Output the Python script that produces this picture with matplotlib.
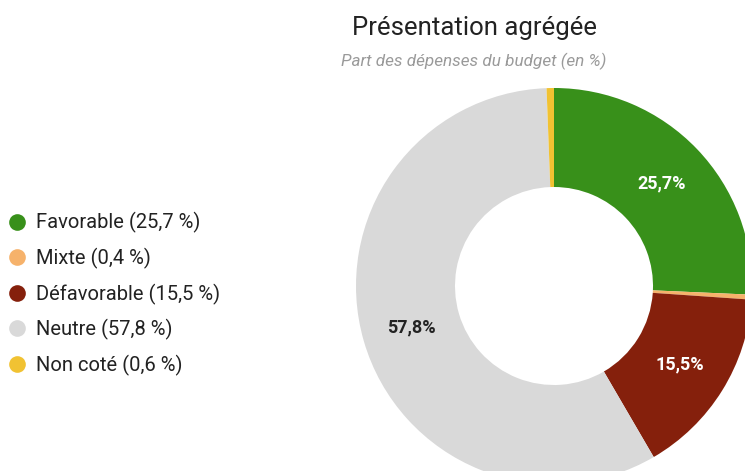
import matplotlib
matplotlib.use("Agg")
import matplotlib.pyplot as plt
from matplotlib.lines import Line2D

plt.rcParams["font.family"] = ["Roboto", "DejaVu Sans"]

# Data
categories = ["Favorable", "Mixte", "Défavorable", "Neutre", "Non coté"]
shares = [25.7, 0.4, 15.5, 57.8, 0.6]
colors = ["#38901a", "#f6b26b", "#85200c", "#d9d9d9", "#f1c232"]
label_colors = ["white", "white", "white", "#222222", "white"]

title = "Présentation agrégée"
subtitle = "Part des dépenses du budget (en %)"


def fmt(v):
    return f"{v:.1f}".replace(".", ",")


W, H = 745, 471
fig = plt.figure(figsize=(W / 100, H / 100), dpi=100)
fig.patch.set_facecolor("white")

# pie axes: centre (554, 286) px, outer radius 198 px
cx, cy, r = 554, 286, 198
ax = fig.add_axes([(cx - r) / W, (H - cy - r) / H, 2 * r / W, 2 * r / H])
ax.axis("off")

wedges, texts, autotexts = ax.pie(
    shares,
    colors=colors,
    startangle=90,
    counterclock=False,
    radius=1,
    autopct=lambda p: f"{fmt(p)}%" if p > 5 else "",
    pctdistance=0.75,
    wedgeprops={"width": 0.5, "linewidth": 0},
)
ax.set_xlim(-1, 1)
ax.set_ylim(-1, 1)
for t, c in zip(autotexts, label_colors):
    t.set_color(c)
    t.set_fontsize(13)
    t.set_fontweight("bold")

# Titles
fig.text(474 / W, 1 - 28 / H, title, ha="center", va="center",
         fontsize=18.5, color="#222222")
fig.text(474 / W, 1 - 61 / H, subtitle, ha="center", va="center",
         fontsize=12.3, color="#9a9a9a", style="italic")

# Legend
handles = [
    Line2D([], [], linestyle="none", marker="o", markersize=12,
           markerfacecolor=c, markeredgewidth=0)
    for c in colors
]
labels = [f"{cat} ({fmt(v)} %)" for cat, v in zip(categories, shares)]
fig.legend(
    handles, labels,
    loc="center left",
    bbox_to_anchor=(8 / W, 1 - 294 / H),
    frameon=False,
    fontsize=14.5,
    labelcolor="#222222",
    handlelength=0.9,
    handletextpad=0.5,
    labelspacing=0.72,
    borderpad=0,
    borderaxespad=0,
)

fig.savefig("out.png", dpi=100, facecolor="white")
